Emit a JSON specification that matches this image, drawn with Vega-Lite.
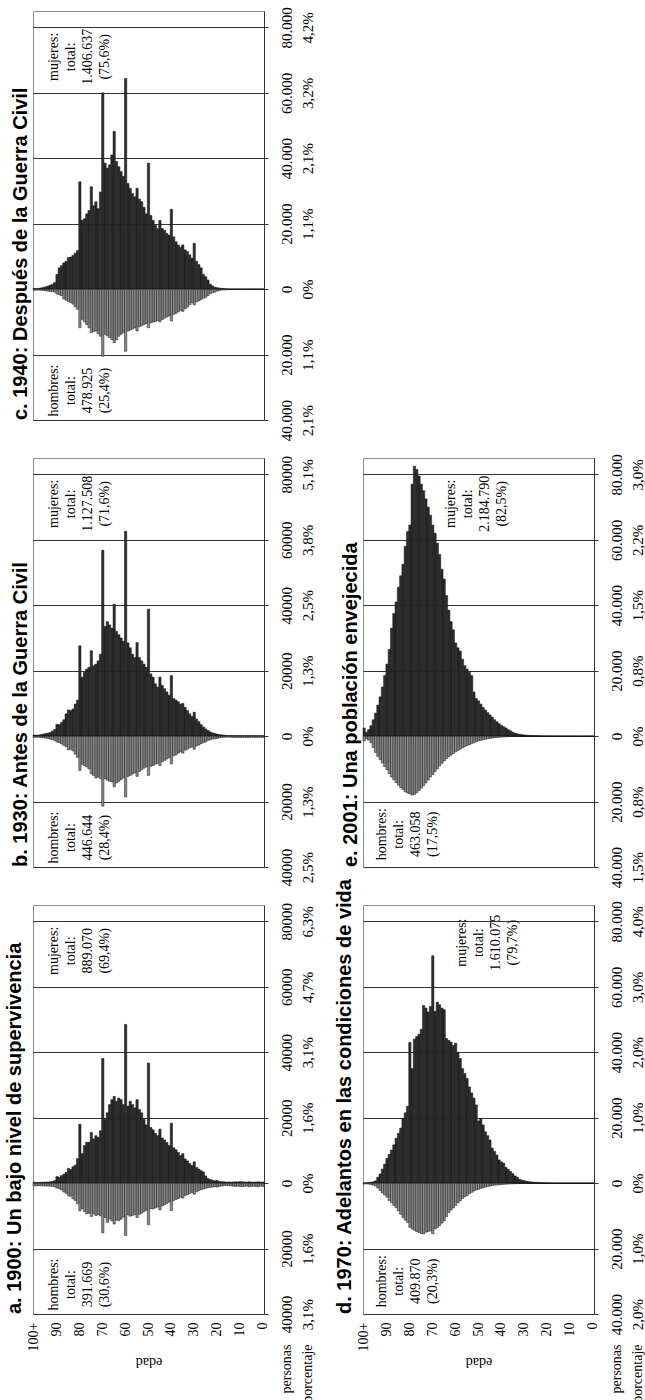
{
"$schema": "https://vega.github.io/schema/vega-lite/v6.json",
"background": "white",
"padding": {"left": 4, "top": 6, "right": 0, "bottom": 0},
"config": {"view": {"stroke": "#8c8c8c", "strokeWidth": 1}, "axis": {"labelColor": "#000", "titleColor": "#000"}, "title": {"frame": "group"}, "text": {"angle": 270, "align": "center", "baseline": "middle", "font": "Liberation Serif", "fontSize": 14, "color": "#000"}},
"columns": 2,
"bounds": "flush",
"spacing": {"row": 38, "column": 99},
"datasets": {
"A": [
{"a":0,"s":"m","v":350},{"a":1,"s":"m","v":300},{"a":2,"s":"m","v":400},{"a":3,"s":"m","v":350},{"a":4,"s":"m","v":300},{"a":5,"s":"m","v":350},{"a":6,"s":"m","v":400},{"a":7,"s":"m","v":300},{"a":8,"s":"m","v":350},{"a":9,"s":"m","v":400},
{"a":10,"s":"m","v":450},{"a":11,"s":"m","v":350},{"a":12,"s":"m","v":400},{"a":13,"s":"m","v":350},{"a":14,"s":"m","v":300},{"a":15,"s":"m","v":350},{"a":16,"s":"m","v":300},{"a":17,"s":"m","v":400},{"a":18,"s":"m","v":450},{"a":19,"s":"m","v":500},
{"a":20,"s":"m","v":800},{"a":21,"s":"m","v":700},{"a":22,"s":"m","v":900},{"a":23,"s":"m","v":1100},{"a":24,"s":"m","v":1400},{"a":25,"s":"m","v":2200},{"a":26,"s":"m","v":3400},{"a":27,"s":"m","v":3800},{"a":28,"s":"m","v":4300},{"a":29,"s":"m","v":4800},
{"a":30,"s":"m","v":6500},{"a":31,"s":"m","v":5400},{"a":32,"s":"m","v":6000},{"a":33,"s":"m","v":6800},{"a":34,"s":"m","v":7400},{"a":35,"s":"m","v":9000},{"a":36,"s":"m","v":8400},{"a":37,"s":"m","v":9400},{"a":38,"s":"m","v":10200},{"a":39,"s":"m","v":10800},
{"a":40,"s":"m","v":18300},{"a":41,"s":"m","v":11500},{"a":42,"s":"m","v":12400},{"a":43,"s":"m","v":13200},{"a":44,"s":"m","v":13800},{"a":45,"s":"m","v":16500},{"a":46,"s":"m","v":14500},{"a":47,"s":"m","v":15200},{"a":48,"s":"m","v":16300},{"a":49,"s":"m","v":17000},
{"a":50,"s":"m","v":36700},{"a":51,"s":"m","v":17800},{"a":52,"s":"m","v":19500},{"a":53,"s":"m","v":21500},{"a":54,"s":"m","v":22500},{"a":55,"s":"m","v":25500},{"a":56,"s":"m","v":23000},{"a":57,"s":"m","v":24000},{"a":58,"s":"m","v":25000},{"a":59,"s":"m","v":23500},
{"a":60,"s":"m","v":48500},{"a":61,"s":"m","v":24000},{"a":62,"s":"m","v":25500},{"a":63,"s":"m","v":26000},{"a":64,"s":"m","v":25000},{"a":65,"s":"m","v":26500},{"a":66,"s":"m","v":25500},{"a":67,"s":"m","v":24000},{"a":68,"s":"m","v":21500},{"a":69,"s":"m","v":19500},
{"a":70,"s":"m","v":38100},{"a":71,"s":"m","v":16000},{"a":72,"s":"m","v":14000},{"a":73,"s":"m","v":14500},{"a":74,"s":"m","v":13500},{"a":75,"s":"m","v":15500},{"a":76,"s":"m","v":12500},{"a":77,"s":"m","v":12500},{"a":78,"s":"m","v":11500},{"a":79,"s":"m","v":9000},
{"a":80,"s":"m","v":18000},{"a":81,"s":"m","v":7500},{"a":82,"s":"m","v":5500},{"a":83,"s":"m","v":5000},{"a":84,"s":"m","v":4200},{"a":85,"s":"m","v":4500},{"a":86,"s":"m","v":3300},{"a":87,"s":"m","v":2700},{"a":88,"s":"m","v":2300},{"a":89,"s":"m","v":1800},
{"a":90,"s":"m","v":2000},{"a":91,"s":"m","v":800},{"a":92,"s":"m","v":500},{"a":93,"s":"m","v":400},{"a":94,"s":"m","v":300},{"a":95,"s":"m","v":350},{"a":96,"s":"m","v":250},{"a":97,"s":"m","v":250},{"a":98,"s":"m","v":200},{"a":99,"s":"m","v":200},{"a":100,"s":"m","v":300},
{"a":0,"s":"h","v":-1000},{"a":1,"s":"h","v":-900},{"a":2,"s":"h","v":-1100},{"a":3,"s":"h","v":-1000},{"a":4,"s":"h","v":-900},{"a":5,"s":"h","v":-1000},{"a":6,"s":"h","v":-1100},{"a":7,"s":"h","v":-900},{"a":8,"s":"h","v":-1000},{"a":9,"s":"h","v":-1100},
{"a":10,"s":"h","v":-1000},{"a":11,"s":"h","v":-900},{"a":12,"s":"h","v":-1000},{"a":13,"s":"h","v":-900},{"a":14,"s":"h","v":-800},{"a":15,"s":"h","v":-800},{"a":16,"s":"h","v":-700},{"a":17,"s":"h","v":-800},{"a":18,"s":"h","v":-900},{"a":19,"s":"h","v":-1000},
{"a":20,"s":"h","v":-1200},{"a":21,"s":"h","v":-1100},{"a":22,"s":"h","v":-1200},{"a":23,"s":"h","v":-1300},{"a":24,"s":"h","v":-1400},{"a":25,"s":"h","v":-1600},{"a":26,"s":"h","v":-1800},{"a":27,"s":"h","v":-2000},{"a":28,"s":"h","v":-2300},{"a":29,"s":"h","v":-2600},
{"a":30,"s":"h","v":-3400},{"a":31,"s":"h","v":-2900},{"a":32,"s":"h","v":-3200},{"a":33,"s":"h","v":-3500},{"a":34,"s":"h","v":-3800},{"a":35,"s":"h","v":-4600},{"a":36,"s":"h","v":-4300},{"a":37,"s":"h","v":-4700},{"a":38,"s":"h","v":-5000},{"a":39,"s":"h","v":-5300},
{"a":40,"s":"h","v":-8400},{"a":41,"s":"h","v":-5800},{"a":42,"s":"h","v":-6200},{"a":43,"s":"h","v":-6600},{"a":44,"s":"h","v":-7000},{"a":45,"s":"h","v":-8200},{"a":46,"s":"h","v":-7300},{"a":47,"s":"h","v":-7600},{"a":48,"s":"h","v":-7900},{"a":49,"s":"h","v":-7800},
{"a":50,"s":"h","v":-12700},{"a":51,"s":"h","v":-8300},{"a":52,"s":"h","v":-8700},{"a":53,"s":"h","v":-9200},{"a":54,"s":"h","v":-9500},{"a":55,"s":"h","v":-10500},{"a":56,"s":"h","v":-9600},{"a":57,"s":"h","v":-9900},{"a":58,"s":"h","v":-10100},{"a":59,"s":"h","v":-9700},
{"a":60,"s":"h","v":-16000},{"a":61,"s":"h","v":-10400},{"a":62,"s":"h","v":-11000},{"a":63,"s":"h","v":-11500},{"a":64,"s":"h","v":-11300},{"a":65,"s":"h","v":-12500},{"a":66,"s":"h","v":-11500},{"a":67,"s":"h","v":-11000},{"a":68,"s":"h","v":-12000},{"a":69,"s":"h","v":-10500},
{"a":70,"s":"h","v":-15200},{"a":71,"s":"h","v":-10000},{"a":72,"s":"h","v":-9600},{"a":73,"s":"h","v":-9900},{"a":74,"s":"h","v":-9400},{"a":75,"s":"h","v":-10200},{"a":76,"s":"h","v":-9200},{"a":77,"s":"h","v":-9400},{"a":78,"s":"h","v":-8700},{"a":79,"s":"h","v":-7800},
{"a":80,"s":"h","v":-8500},{"a":81,"s":"h","v":-6300},{"a":82,"s":"h","v":-5300},{"a":83,"s":"h","v":-4800},{"a":84,"s":"h","v":-4000},{"a":85,"s":"h","v":-3900},{"a":86,"s":"h","v":-3100},{"a":87,"s":"h","v":-2700},{"a":88,"s":"h","v":-2100},{"a":89,"s":"h","v":-1700},
{"a":90,"s":"h","v":-1500},{"a":91,"s":"h","v":-1100},{"a":92,"s":"h","v":-1000},{"a":93,"s":"h","v":-900},{"a":94,"s":"h","v":-900},{"a":95,"s":"h","v":-900},{"a":96,"s":"h","v":-800},{"a":97,"s":"h","v":-800},{"a":98,"s":"h","v":-800},{"a":99,"s":"h","v":-800},{"a":100,"s":"h","v":-900}
],
"B": [
{"a":0,"s":"m","v":150},{"a":1,"s":"m","v":120},{"a":2,"s":"m","v":150},{"a":3,"s":"m","v":130},{"a":4,"s":"m","v":150},{"a":5,"s":"m","v":140},{"a":6,"s":"m","v":160},{"a":7,"s":"m","v":150},{"a":8,"s":"m","v":130},{"a":9,"s":"m","v":150},
{"a":10,"s":"m","v":160},{"a":11,"s":"m","v":140},{"a":12,"s":"m","v":150},{"a":13,"s":"m","v":160},{"a":14,"s":"m","v":180},{"a":15,"s":"m","v":200},{"a":16,"s":"m","v":250},{"a":17,"s":"m","v":300},{"a":18,"s":"m","v":400},{"a":19,"s":"m","v":450},
{"a":20,"s":"m","v":600},{"a":21,"s":"m","v":800},{"a":22,"s":"m","v":1000},{"a":23,"s":"m","v":1300},{"a":24,"s":"m","v":1700},{"a":25,"s":"m","v":2200},{"a":26,"s":"m","v":2800},{"a":27,"s":"m","v":3500},{"a":28,"s":"m","v":4400},{"a":29,"s":"m","v":5200},
{"a":30,"s":"m","v":7300},{"a":31,"s":"m","v":6000},{"a":32,"s":"m","v":6800},{"a":33,"s":"m","v":7800},{"a":34,"s":"m","v":8800},{"a":35,"s":"m","v":10000},{"a":36,"s":"m","v":9800},{"a":37,"s":"m","v":10500},{"a":38,"s":"m","v":11000},{"a":39,"s":"m","v":11500},
{"a":40,"s":"m","v":18500},{"a":41,"s":"m","v":12500},{"a":42,"s":"m","v":13500},{"a":43,"s":"m","v":14500},{"a":44,"s":"m","v":15500},{"a":45,"s":"m","v":18000},{"a":46,"s":"m","v":15000},{"a":47,"s":"m","v":16000},{"a":48,"s":"m","v":18000},{"a":49,"s":"m","v":19000},
{"a":50,"s":"m","v":38800},{"a":51,"s":"m","v":21000},{"a":52,"s":"m","v":22000},{"a":53,"s":"m","v":23000},{"a":54,"s":"m","v":24000},{"a":55,"s":"m","v":28600},{"a":56,"s":"m","v":24000},{"a":57,"s":"m","v":25000},{"a":58,"s":"m","v":27000},{"a":59,"s":"m","v":28500},
{"a":60,"s":"m","v":62600},{"a":61,"s":"m","v":29000},{"a":62,"s":"m","v":30000},{"a":63,"s":"m","v":31000},{"a":64,"s":"m","v":32000},{"a":65,"s":"m","v":40300},{"a":66,"s":"m","v":33000},{"a":67,"s":"m","v":34000},{"a":68,"s":"m","v":35000},{"a":69,"s":"m","v":33500},
{"a":70,"s":"m","v":56800},{"a":71,"s":"m","v":25000},{"a":72,"s":"m","v":23000},{"a":73,"s":"m","v":22000},{"a":74,"s":"m","v":21500},{"a":75,"s":"m","v":26100},{"a":76,"s":"m","v":21000},{"a":77,"s":"m","v":20500},{"a":78,"s":"m","v":19500},{"a":79,"s":"m","v":18000},
{"a":80,"s":"m","v":27600},{"a":81,"s":"m","v":11000},{"a":82,"s":"m","v":9800},{"a":83,"s":"m","v":8300},{"a":84,"s":"m","v":7800},{"a":85,"s":"m","v":8000},{"a":86,"s":"m","v":6800},{"a":87,"s":"m","v":5000},{"a":88,"s":"m","v":4200},{"a":89,"s":"m","v":3500},
{"a":90,"s":"m","v":3600},{"a":91,"s":"m","v":2000},{"a":92,"s":"m","v":1500},{"a":93,"s":"m","v":1100},{"a":94,"s":"m","v":900},{"a":95,"s":"m","v":800},{"a":96,"s":"m","v":600},{"a":97,"s":"m","v":450},{"a":98,"s":"m","v":350},{"a":99,"s":"m","v":300},{"a":100,"s":"m","v":350},
{"a":0,"s":"h","v":-400},{"a":1,"s":"h","v":-350},{"a":2,"s":"h","v":-400},{"a":3,"s":"h","v":-380},{"a":4,"s":"h","v":-400},{"a":5,"s":"h","v":-350},{"a":6,"s":"h","v":-420},{"a":7,"s":"h","v":-400},{"a":8,"s":"h","v":-380},{"a":9,"s":"h","v":-400},
{"a":10,"s":"h","v":-420},{"a":11,"s":"h","v":-380},{"a":12,"s":"h","v":-400},{"a":13,"s":"h","v":-380},{"a":14,"s":"h","v":-350},{"a":15,"s":"h","v":-300},{"a":16,"s":"h","v":-300},{"a":17,"s":"h","v":-350},{"a":18,"s":"h","v":-400},{"a":19,"s":"h","v":-500},
{"a":20,"s":"h","v":-700},{"a":21,"s":"h","v":-800},{"a":22,"s":"h","v":-900},{"a":23,"s":"h","v":-1100},{"a":24,"s":"h","v":-1300},{"a":25,"s":"h","v":-1800},{"a":26,"s":"h","v":-2000},{"a":27,"s":"h","v":-2300},{"a":28,"s":"h","v":-2700},{"a":29,"s":"h","v":-3000},
{"a":30,"s":"h","v":-4000},{"a":31,"s":"h","v":-3300},{"a":32,"s":"h","v":-3600},{"a":33,"s":"h","v":-4000},{"a":34,"s":"h","v":-4300},{"a":35,"s":"h","v":-5200},{"a":36,"s":"h","v":-4800},{"a":37,"s":"h","v":-5200},{"a":38,"s":"h","v":-5700},{"a":39,"s":"h","v":-6000},
{"a":40,"s":"h","v":-8500},{"a":41,"s":"h","v":-6500},{"a":42,"s":"h","v":-7000},{"a":43,"s":"h","v":-7400},{"a":44,"s":"h","v":-7800},{"a":45,"s":"h","v":-9000},{"a":46,"s":"h","v":-8300},{"a":47,"s":"h","v":-8600},{"a":48,"s":"h","v":-9000},{"a":49,"s":"h","v":-9200},
{"a":50,"s":"h","v":-12000},{"a":51,"s":"h","v":-9400},{"a":52,"s":"h","v":-9800},{"a":53,"s":"h","v":-10300},{"a":54,"s":"h","v":-10800},{"a":55,"s":"h","v":-12300},{"a":56,"s":"h","v":-11200},{"a":57,"s":"h","v":-11600},{"a":58,"s":"h","v":-12000},{"a":59,"s":"h","v":-12300},
{"a":60,"s":"h","v":-18600},{"a":61,"s":"h","v":-12800},{"a":62,"s":"h","v":-13300},{"a":63,"s":"h","v":-13800},{"a":64,"s":"h","v":-14300},{"a":65,"s":"h","v":-15500},{"a":66,"s":"h","v":-14000},{"a":67,"s":"h","v":-13800},{"a":68,"s":"h","v":-13500},{"a":69,"s":"h","v":-13000},
{"a":70,"s":"h","v":-21400},{"a":71,"s":"h","v":-13000},{"a":72,"s":"h","v":-12500},{"a":73,"s":"h","v":-12800},{"a":74,"s":"h","v":-12000},{"a":75,"s":"h","v":-11500},{"a":76,"s":"h","v":-10000},{"a":77,"s":"h","v":-9400},{"a":78,"s":"h","v":-9000},{"a":79,"s":"h","v":-8600},
{"a":80,"s":"h","v":-10500},{"a":81,"s":"h","v":-6500},{"a":82,"s":"h","v":-5500},{"a":83,"s":"h","v":-4500},{"a":84,"s":"h","v":-4000},{"a":85,"s":"h","v":-4200},{"a":86,"s":"h","v":-3200},{"a":87,"s":"h","v":-2800},{"a":88,"s":"h","v":-2400},{"a":89,"s":"h","v":-2000},
{"a":90,"s":"h","v":-1800},{"a":91,"s":"h","v":-1300},{"a":92,"s":"h","v":-1100},{"a":93,"s":"h","v":-900},{"a":94,"s":"h","v":-700},{"a":95,"s":"h","v":-600},{"a":96,"s":"h","v":-500},{"a":97,"s":"h","v":-400},{"a":98,"s":"h","v":-350},{"a":99,"s":"h","v":-300},{"a":100,"s":"h","v":-400}
],
"C": [
{"a":0,"s":"m","v":50},{"a":1,"s":"m","v":50},{"a":2,"s":"m","v":50},{"a":3,"s":"m","v":50},{"a":4,"s":"m","v":50},{"a":5,"s":"m","v":50},{"a":6,"s":"m","v":50},{"a":7,"s":"m","v":50},{"a":8,"s":"m","v":50},{"a":9,"s":"m","v":50},
{"a":10,"s":"m","v":50},{"a":11,"s":"m","v":50},{"a":12,"s":"m","v":50},{"a":13,"s":"m","v":50},{"a":14,"s":"m","v":50},{"a":15,"s":"m","v":80},{"a":16,"s":"m","v":120},{"a":17,"s":"m","v":200},{"a":18,"s":"m","v":250},{"a":19,"s":"m","v":300},
{"a":20,"s":"m","v":450},{"a":21,"s":"m","v":600},{"a":22,"s":"m","v":1000},{"a":23,"s":"m","v":1500},{"a":24,"s":"m","v":2800},{"a":25,"s":"m","v":3800},{"a":26,"s":"m","v":4500},{"a":27,"s":"m","v":6500},{"a":28,"s":"m","v":7500},{"a":29,"s":"m","v":8500},
{"a":30,"s":"m","v":14000},{"a":31,"s":"m","v":9500},{"a":32,"s":"m","v":10500},{"a":33,"s":"m","v":11500},{"a":34,"s":"m","v":12000},{"a":35,"s":"m","v":13500},{"a":36,"s":"m","v":12800},{"a":37,"s":"m","v":13500},{"a":38,"s":"m","v":14500},{"a":39,"s":"m","v":16000},
{"a":40,"s":"m","v":24400},{"a":41,"s":"m","v":16500},{"a":42,"s":"m","v":17000},{"a":43,"s":"m","v":18000},{"a":44,"s":"m","v":18500},{"a":45,"s":"m","v":21000},{"a":46,"s":"m","v":18500},{"a":47,"s":"m","v":19500},{"a":48,"s":"m","v":21000},{"a":49,"s":"m","v":22500},
{"a":50,"s":"m","v":38500},{"a":51,"s":"m","v":23000},{"a":52,"s":"m","v":25000},{"a":53,"s":"m","v":26700},{"a":54,"s":"m","v":27500},{"a":55,"s":"m","v":30800},{"a":56,"s":"m","v":28200},{"a":57,"s":"m","v":29200},{"a":58,"s":"m","v":30800},{"a":59,"s":"m","v":32300},
{"a":60,"s":"m","v":64400},{"a":61,"s":"m","v":34500},{"a":62,"s":"m","v":35900},{"a":63,"s":"m","v":37400},{"a":64,"s":"m","v":39000},{"a":65,"s":"m","v":48200},{"a":66,"s":"m","v":41000},{"a":67,"s":"m","v":38000},{"a":68,"s":"m","v":37000},{"a":69,"s":"m","v":38500},
{"a":70,"s":"m","v":60000},{"a":71,"s":"m","v":29700},{"a":72,"s":"m","v":24600},{"a":73,"s":"m","v":26700},{"a":74,"s":"m","v":25500},{"a":75,"s":"m","v":31300},{"a":76,"s":"m","v":24000},{"a":77,"s":"m","v":23000},{"a":78,"s":"m","v":21500},{"a":79,"s":"m","v":21000},
{"a":80,"s":"m","v":32800},{"a":81,"s":"m","v":11800},{"a":82,"s":"m","v":11000},{"a":83,"s":"m","v":10300},{"a":84,"s":"m","v":9800},{"a":85,"s":"m","v":9700},{"a":86,"s":"m","v":8500},{"a":87,"s":"m","v":8000},{"a":88,"s":"m","v":7200},{"a":89,"s":"m","v":6500},
{"a":90,"s":"m","v":4500},{"a":91,"s":"m","v":2000},{"a":92,"s":"m","v":1500},{"a":93,"s":"m","v":1200},{"a":94,"s":"m","v":900},{"a":95,"s":"m","v":700},{"a":96,"s":"m","v":500},{"a":97,"s":"m","v":350},{"a":98,"s":"m","v":250},{"a":99,"s":"m","v":150},{"a":100,"s":"m","v":200},
{"a":0,"s":"h","v":-100},{"a":1,"s":"h","v":-100},{"a":2,"s":"h","v":-100},{"a":3,"s":"h","v":-100},{"a":4,"s":"h","v":-100},{"a":5,"s":"h","v":-100},{"a":6,"s":"h","v":-100},{"a":7,"s":"h","v":-100},{"a":8,"s":"h","v":-100},{"a":9,"s":"h","v":-100},
{"a":10,"s":"h","v":-100},{"a":11,"s":"h","v":-100},{"a":12,"s":"h","v":-100},{"a":13,"s":"h","v":-100},{"a":14,"s":"h","v":-100},{"a":15,"s":"h","v":-150},{"a":16,"s":"h","v":-200},{"a":17,"s":"h","v":-250},{"a":18,"s":"h","v":-300},{"a":19,"s":"h","v":-400},
{"a":20,"s":"h","v":-600},{"a":21,"s":"h","v":-900},{"a":22,"s":"h","v":-1100},{"a":23,"s":"h","v":-1400},{"a":24,"s":"h","v":-2000},{"a":25,"s":"h","v":-2500},{"a":26,"s":"h","v":-2800},{"a":27,"s":"h","v":-3200},{"a":28,"s":"h","v":-3600},{"a":29,"s":"h","v":-3900},
{"a":30,"s":"h","v":-4800},{"a":31,"s":"h","v":-4200},{"a":32,"s":"h","v":-4800},{"a":33,"s":"h","v":-5500},{"a":34,"s":"h","v":-6000},{"a":35,"s":"h","v":-6800},{"a":36,"s":"h","v":-6500},{"a":37,"s":"h","v":-7000},{"a":38,"s":"h","v":-7400},{"a":39,"s":"h","v":-7700},
{"a":40,"s":"h","v":-9700},{"a":41,"s":"h","v":-8200},{"a":42,"s":"h","v":-8500},{"a":43,"s":"h","v":-8900},{"a":44,"s":"h","v":-9300},{"a":45,"s":"h","v":-10000},{"a":46,"s":"h","v":-9600},{"a":47,"s":"h","v":-9900},{"a":48,"s":"h","v":-10100},{"a":49,"s":"h","v":-10300},
{"a":50,"s":"h","v":-11800},{"a":51,"s":"h","v":-10500},{"a":52,"s":"h","v":-10800},{"a":53,"s":"h","v":-11200},{"a":54,"s":"h","v":-11500},{"a":55,"s":"h","v":-12800},{"a":56,"s":"h","v":-11800},{"a":57,"s":"h","v":-12200},{"a":58,"s":"h","v":-12500},{"a":59,"s":"h","v":-12800},
{"a":60,"s":"h","v":-19000},{"a":61,"s":"h","v":-13300},{"a":62,"s":"h","v":-13800},{"a":63,"s":"h","v":-14400},{"a":64,"s":"h","v":-15500},{"a":65,"s":"h","v":-16400},{"a":66,"s":"h","v":-15400},{"a":67,"s":"h","v":-14800},{"a":68,"s":"h","v":-14300},{"a":69,"s":"h","v":-13800},
{"a":70,"s":"h","v":-20500},{"a":71,"s":"h","v":-14400},{"a":72,"s":"h","v":-13600},{"a":73,"s":"h","v":-12800},{"a":74,"s":"h","v":-13000},{"a":75,"s":"h","v":-13300},{"a":76,"s":"h","v":-11800},{"a":77,"s":"h","v":-10800},{"a":78,"s":"h","v":-10000},{"a":79,"s":"h","v":-9200},
{"a":80,"s":"h","v":-11800},{"a":81,"s":"h","v":-6200},{"a":82,"s":"h","v":-5400},{"a":83,"s":"h","v":-4600},{"a":84,"s":"h","v":-4100},{"a":85,"s":"h","v":-3800},{"a":86,"s":"h","v":-3400},{"a":87,"s":"h","v":-3000},{"a":88,"s":"h","v":-2000},{"a":89,"s":"h","v":-1700},
{"a":90,"s":"h","v":-1500},{"a":91,"s":"h","v":-900},{"a":92,"s":"h","v":-800},{"a":93,"s":"h","v":-700},{"a":94,"s":"h","v":-600},{"a":95,"s":"h","v":-500},{"a":96,"s":"h","v":-400},{"a":97,"s":"h","v":-350},{"a":98,"s":"h","v":-300},{"a":99,"s":"h","v":-300},{"a":100,"s":"h","v":-350}
],
"D": [
{"a":0,"s":"m","v":0},{"a":1,"s":"m","v":0},{"a":2,"s":"m","v":0},{"a":3,"s":"m","v":0},{"a":4,"s":"m","v":0},{"a":5,"s":"m","v":0},{"a":6,"s":"m","v":0},{"a":7,"s":"m","v":0},{"a":8,"s":"m","v":0},{"a":9,"s":"m","v":0},
{"a":10,"s":"m","v":0},{"a":11,"s":"m","v":0},{"a":12,"s":"m","v":5},{"a":13,"s":"m","v":5},{"a":14,"s":"m","v":10},{"a":15,"s":"m","v":10},{"a":16,"s":"m","v":20},{"a":17,"s":"m","v":30},{"a":18,"s":"m","v":40},{"a":19,"s":"m","v":60},
{"a":20,"s":"m","v":80},{"a":21,"s":"m","v":100},{"a":22,"s":"m","v":130},{"a":23,"s":"m","v":160},{"a":24,"s":"m","v":200},{"a":25,"s":"m","v":250},{"a":26,"s":"m","v":300},{"a":27,"s":"m","v":350},{"a":28,"s":"m","v":450},{"a":29,"s":"m","v":600},
{"a":30,"s":"m","v":750},{"a":31,"s":"m","v":900},{"a":32,"s":"m","v":1200},{"a":33,"s":"m","v":1800},{"a":34,"s":"m","v":2200},{"a":35,"s":"m","v":2900},{"a":36,"s":"m","v":3600},{"a":37,"s":"m","v":4200},{"a":38,"s":"m","v":4800},{"a":39,"s":"m","v":6100},
{"a":40,"s":"m","v":6500},{"a":41,"s":"m","v":7100},{"a":42,"s":"m","v":8600},{"a":43,"s":"m","v":9700},{"a":44,"s":"m","v":10700},{"a":45,"s":"m","v":13200},{"a":46,"s":"m","v":14500},{"a":47,"s":"m","v":15700},{"a":48,"s":"m","v":17800},{"a":49,"s":"m","v":19800},
{"a":50,"s":"m","v":19000},{"a":51,"s":"m","v":23900},{"a":52,"s":"m","v":26000},{"a":53,"s":"m","v":27600},{"a":54,"s":"m","v":29400},{"a":55,"s":"m","v":32000},{"a":56,"s":"m","v":33500},{"a":57,"s":"m","v":35000},{"a":58,"s":"m","v":38100},{"a":59,"s":"m","v":40000},
{"a":60,"s":"m","v":42800},{"a":61,"s":"m","v":42100},{"a":62,"s":"m","v":43100},{"a":63,"s":"m","v":43600},{"a":64,"s":"m","v":44200},{"a":65,"s":"m","v":53000},{"a":66,"s":"m","v":53500},{"a":67,"s":"m","v":54500},{"a":68,"s":"m","v":55300},{"a":69,"s":"m","v":52500},
{"a":70,"s":"m","v":69500},{"a":71,"s":"m","v":54000},{"a":72,"s":"m","v":52300},{"a":73,"s":"m","v":53500},{"a":74,"s":"m","v":54300},{"a":75,"s":"m","v":47000},{"a":76,"s":"m","v":45500},{"a":77,"s":"m","v":44800},{"a":78,"s":"m","v":44000},{"a":79,"s":"m","v":35000},
{"a":80,"s":"m","v":43000},{"a":81,"s":"m","v":23500},{"a":82,"s":"m","v":21500},{"a":83,"s":"m","v":19800},{"a":84,"s":"m","v":16800},{"a":85,"s":"m","v":15200},{"a":86,"s":"m","v":13700},{"a":87,"s":"m","v":11700},{"a":88,"s":"m","v":10100},{"a":89,"s":"m","v":8800},
{"a":90,"s":"m","v":7600},{"a":91,"s":"m","v":5800},{"a":92,"s":"m","v":4300},{"a":93,"s":"m","v":2800},{"a":94,"s":"m","v":1800},{"a":95,"s":"m","v":700},{"a":96,"s":"m","v":400},{"a":97,"s":"m","v":250},{"a":98,"s":"m","v":150},{"a":99,"s":"m","v":100},{"a":100,"s":"m","v":100},
{"a":0,"s":"h","v":0},{"a":1,"s":"h","v":0},{"a":2,"s":"h","v":0},{"a":3,"s":"h","v":0},{"a":4,"s":"h","v":0},{"a":5,"s":"h","v":0},{"a":6,"s":"h","v":0},{"a":7,"s":"h","v":0},{"a":8,"s":"h","v":0},{"a":9,"s":"h","v":0},
{"a":10,"s":"h","v":0},{"a":11,"s":"h","v":0},{"a":12,"s":"h","v":-5},{"a":13,"s":"h","v":-5},{"a":14,"s":"h","v":-10},{"a":15,"s":"h","v":-10},{"a":16,"s":"h","v":-10},{"a":17,"s":"h","v":-10},{"a":18,"s":"h","v":-10},{"a":19,"s":"h","v":-10},
{"a":20,"s":"h","v":-15},{"a":21,"s":"h","v":-20},{"a":22,"s":"h","v":-30},{"a":23,"s":"h","v":-40},{"a":24,"s":"h","v":-50},{"a":25,"s":"h","v":-60},{"a":26,"s":"h","v":-70},{"a":27,"s":"h","v":-80},{"a":28,"s":"h","v":-90},{"a":29,"s":"h","v":-100},
{"a":30,"s":"h","v":-110},{"a":31,"s":"h","v":-130},{"a":32,"s":"h","v":-150},{"a":33,"s":"h","v":-170},{"a":34,"s":"h","v":-190},{"a":35,"s":"h","v":-210},{"a":36,"s":"h","v":-240},{"a":37,"s":"h","v":-280},{"a":38,"s":"h","v":-320},{"a":39,"s":"h","v":-370},
{"a":40,"s":"h","v":-430},{"a":41,"s":"h","v":-500},{"a":42,"s":"h","v":-560},{"a":43,"s":"h","v":-650},{"a":44,"s":"h","v":-750},{"a":45,"s":"h","v":-900},{"a":46,"s":"h","v":-1000},{"a":47,"s":"h","v":-1200},{"a":48,"s":"h","v":-1400},{"a":49,"s":"h","v":-1600},
{"a":50,"s":"h","v":-1900},{"a":51,"s":"h","v":-2100},{"a":52,"s":"h","v":-2400},{"a":53,"s":"h","v":-2800},{"a":54,"s":"h","v":-3200},{"a":55,"s":"h","v":-3800},{"a":56,"s":"h","v":-4200},{"a":57,"s":"h","v":-4700},{"a":58,"s":"h","v":-5400},{"a":59,"s":"h","v":-6000},
{"a":60,"s":"h","v":-6800},{"a":61,"s":"h","v":-7600},{"a":62,"s":"h","v":-8200},{"a":63,"s":"h","v":-9000},{"a":64,"s":"h","v":-10200},{"a":65,"s":"h","v":-11500},{"a":66,"s":"h","v":-12200},{"a":67,"s":"h","v":-13000},{"a":68,"s":"h","v":-13600},{"a":69,"s":"h","v":-14000},
{"a":70,"s":"h","v":-15500},{"a":71,"s":"h","v":-14600},{"a":72,"s":"h","v":-14800},{"a":73,"s":"h","v":-15000},{"a":74,"s":"h","v":-15500},{"a":75,"s":"h","v":-15400},{"a":76,"s":"h","v":-15100},{"a":77,"s":"h","v":-14800},{"a":78,"s":"h","v":-14400},{"a":79,"s":"h","v":-14000},
{"a":80,"s":"h","v":-13500},{"a":81,"s":"h","v":-12000},{"a":82,"s":"h","v":-11300},{"a":83,"s":"h","v":-10500},{"a":84,"s":"h","v":-9500},{"a":85,"s":"h","v":-8500},{"a":86,"s":"h","v":-7500},{"a":87,"s":"h","v":-6800},{"a":88,"s":"h","v":-6000},{"a":89,"s":"h","v":-5300},
{"a":90,"s":"h","v":-4300},{"a":91,"s":"h","v":-3600},{"a":92,"s":"h","v":-3000},{"a":93,"s":"h","v":-2300},{"a":94,"s":"h","v":-1500},{"a":95,"s":"h","v":-900},{"a":96,"s":"h","v":-600},{"a":97,"s":"h","v":-400},{"a":98,"s":"h","v":-300},{"a":99,"s":"h","v":-200},{"a":100,"s":"h","v":-300}
],
"E": [
{"a":0,"s":"m","v":0},{"a":1,"s":"m","v":0},{"a":2,"s":"m","v":0},{"a":3,"s":"m","v":0},{"a":4,"s":"m","v":0},{"a":5,"s":"m","v":0},{"a":6,"s":"m","v":0},{"a":7,"s":"m","v":0},{"a":8,"s":"m","v":0},{"a":9,"s":"m","v":0},
{"a":10,"s":"m","v":4},{"a":11,"s":"m","v":5},{"a":12,"s":"m","v":6},{"a":13,"s":"m","v":8},{"a":14,"s":"m","v":10},{"a":15,"s":"m","v":10},{"a":16,"s":"m","v":15},{"a":17,"s":"m","v":20},{"a":18,"s":"m","v":30},{"a":19,"s":"m","v":40},
{"a":20,"s":"m","v":50},{"a":21,"s":"m","v":60},{"a":22,"s":"m","v":80},{"a":23,"s":"m","v":100},{"a":24,"s":"m","v":120},{"a":25,"s":"m","v":140},{"a":26,"s":"m","v":170},{"a":27,"s":"m","v":200},{"a":28,"s":"m","v":250},{"a":29,"s":"m","v":300},
{"a":30,"s":"m","v":350},{"a":31,"s":"m","v":450},{"a":32,"s":"m","v":550},{"a":33,"s":"m","v":700},{"a":34,"s":"m","v":900},{"a":35,"s":"m","v":1200},{"a":36,"s":"m","v":1600},{"a":37,"s":"m","v":2000},{"a":38,"s":"m","v":2500},{"a":39,"s":"m","v":2900},
{"a":40,"s":"m","v":3300},{"a":41,"s":"m","v":3800},{"a":42,"s":"m","v":4400},{"a":43,"s":"m","v":5000},{"a":44,"s":"m","v":5800},{"a":45,"s":"m","v":6500},{"a":46,"s":"m","v":7200},{"a":47,"s":"m","v":8000},{"a":48,"s":"m","v":8800},{"a":49,"s":"m","v":9800},
{"a":50,"s":"m","v":10800},{"a":51,"s":"m","v":11500},{"a":52,"s":"m","v":13500},{"a":53,"s":"m","v":18500},{"a":54,"s":"m","v":19500},{"a":55,"s":"m","v":20500},{"a":56,"s":"m","v":21500},{"a":57,"s":"m","v":23500},{"a":58,"s":"m","v":26000},{"a":59,"s":"m","v":27000},
{"a":60,"s":"m","v":28500},{"a":61,"s":"m","v":32500},{"a":62,"s":"m","v":35000},{"a":63,"s":"m","v":38500},{"a":64,"s":"m","v":43000},{"a":65,"s":"m","v":48000},{"a":66,"s":"m","v":51000},{"a":67,"s":"m","v":55500},{"a":68,"s":"m","v":59000},{"a":69,"s":"m","v":62000},
{"a":70,"s":"m","v":64500},{"a":71,"s":"m","v":67500},{"a":72,"s":"m","v":70000},{"a":73,"s":"m","v":72500},{"a":74,"s":"m","v":75000},{"a":75,"s":"m","v":77000},{"a":76,"s":"m","v":79500},{"a":77,"s":"m","v":81500},{"a":78,"s":"m","v":82500},{"a":79,"s":"m","v":77000},
{"a":80,"s":"m","v":64500},{"a":81,"s":"m","v":62500},{"a":82,"s":"m","v":58000},{"a":83,"s":"m","v":52500},{"a":84,"s":"m","v":49000},{"a":85,"s":"m","v":45500},{"a":86,"s":"m","v":41000},{"a":87,"s":"m","v":37500},{"a":88,"s":"m","v":33000},{"a":89,"s":"m","v":26500},
{"a":90,"s":"m","v":22000},{"a":91,"s":"m","v":18500},{"a":92,"s":"m","v":15000},{"a":93,"s":"m","v":12000},{"a":94,"s":"m","v":9500},{"a":95,"s":"m","v":7000},{"a":96,"s":"m","v":5000},{"a":97,"s":"m","v":3200},{"a":98,"s":"m","v":2000},{"a":99,"s":"m","v":1200},{"a":100,"s":"m","v":2500},
{"a":0,"s":"h","v":0},{"a":1,"s":"h","v":0},{"a":2,"s":"h","v":0},{"a":3,"s":"h","v":0},{"a":4,"s":"h","v":0},{"a":5,"s":"h","v":0},{"a":6,"s":"h","v":0},{"a":7,"s":"h","v":0},{"a":8,"s":"h","v":0},{"a":9,"s":"h","v":0},
{"a":10,"s":"h","v":0},{"a":11,"s":"h","v":0},{"a":12,"s":"h","v":0},{"a":13,"s":"h","v":0},{"a":14,"s":"h","v":0},{"a":15,"s":"h","v":0},{"a":16,"s":"h","v":0},{"a":17,"s":"h","v":0},{"a":18,"s":"h","v":0},{"a":19,"s":"h","v":0},
{"a":20,"s":"h","v":-10},{"a":21,"s":"h","v":-12},{"a":22,"s":"h","v":-15},{"a":23,"s":"h","v":-18},{"a":24,"s":"h","v":-20},{"a":25,"s":"h","v":-22},{"a":26,"s":"h","v":-25},{"a":27,"s":"h","v":-28},{"a":28,"s":"h","v":-30},{"a":29,"s":"h","v":-35},
{"a":30,"s":"h","v":-40},{"a":31,"s":"h","v":-50},{"a":32,"s":"h","v":-60},{"a":33,"s":"h","v":-80},{"a":34,"s":"h","v":-100},{"a":35,"s":"h","v":-120},{"a":36,"s":"h","v":-150},{"a":37,"s":"h","v":-180},{"a":38,"s":"h","v":-220},{"a":39,"s":"h","v":-260},
{"a":40,"s":"h","v":-300},{"a":41,"s":"h","v":-360},{"a":42,"s":"h","v":-420},{"a":43,"s":"h","v":-500},{"a":44,"s":"h","v":-600},{"a":45,"s":"h","v":-700},{"a":46,"s":"h","v":-800},{"a":47,"s":"h","v":-950},{"a":48,"s":"h","v":-1100},{"a":49,"s":"h","v":-1300},
{"a":50,"s":"h","v":-1500},{"a":51,"s":"h","v":-1700},{"a":52,"s":"h","v":-2000},{"a":53,"s":"h","v":-2300},{"a":54,"s":"h","v":-2600},{"a":55,"s":"h","v":-2900},{"a":56,"s":"h","v":-3200},{"a":57,"s":"h","v":-3600},{"a":58,"s":"h","v":-4000},{"a":59,"s":"h","v":-4400},
{"a":60,"s":"h","v":-4800},{"a":61,"s":"h","v":-5300},{"a":62,"s":"h","v":-5800},{"a":63,"s":"h","v":-6300},{"a":64,"s":"h","v":-6900},{"a":65,"s":"h","v":-7600},{"a":66,"s":"h","v":-8300},{"a":67,"s":"h","v":-9100},{"a":68,"s":"h","v":-10000},{"a":69,"s":"h","v":-10800},
{"a":70,"s":"h","v":-11700},{"a":71,"s":"h","v":-12500},{"a":72,"s":"h","v":-13400},{"a":73,"s":"h","v":-14300},{"a":74,"s":"h","v":-15200},{"a":75,"s":"h","v":-15900},{"a":76,"s":"h","v":-16600},{"a":77,"s":"h","v":-17300},{"a":78,"s":"h","v":-17800},{"a":79,"s":"h","v":-18000},
{"a":80,"s":"h","v":-17600},{"a":81,"s":"h","v":-17400},{"a":82,"s":"h","v":-17000},{"a":83,"s":"h","v":-16300},{"a":84,"s":"h","v":-15700},{"a":85,"s":"h","v":-15000},{"a":86,"s":"h","v":-14200},{"a":87,"s":"h","v":-13300},{"a":88,"s":"h","v":-12500},{"a":89,"s":"h","v":-11500},
{"a":90,"s":"h","v":-10300},{"a":91,"s":"h","v":-9300},{"a":92,"s":"h","v":-8200},{"a":93,"s":"h","v":-7200},{"a":94,"s":"h","v":-6200},{"a":95,"s":"h","v":-5000},{"a":96,"s":"h","v":-3500},{"a":97,"s":"h","v":-2000},{"a":98,"s":"h","v":-1200},{"a":99,"s":"h","v":-800},{"a":100,"s":"h","v":-1500}
]
},
"concat": [
{
"width": 231, "height": 409,
"title": {"text": "c. 1940: Después de la Guerra Civil", "orient": "left", "anchor": "start", "font": "Liberation Sans", "fontSize": 20, "fontWeight": "bold", "color": "#000", "offset": 2},
"encoding": {
"x": {"field": "a", "type": "ordinal", "scale": {"domain": [100,99,98,97,96,95,94,93,92,91,90,89,88,87,86,85,84,83,82,81,80,79,78,77,76,75,74,73,72,71,70,69,68,67,66,65,64,63,62,61,60,59,58,57,56,55,54,53,52,51,50,49,48,47,46,45,44,43,42,41,40,39,38,37,36,35,34,33,32,31,30,29,28,27,26,25,24,23,22,21,20,19,18,17,16,15,14,13,12,11,10,9,8,7,6,5,4,3,2,1,0], "paddingInner": 0, "paddingOuter": 0}, "axis": null},
"y": {"field": "v", "type": "quantitative", "scale": {"domain": [-40000, 85000], "nice": false, "zero": false}, "axis": {"orient": "right", "values": [-40000,-20000,0,20000,40000,60000,80000], "grid": true, "gridColor": "#333", "gridWidth": 1, "domainColor": "#333", "tickColor": "#333", "tickSize": 4, "labelAngle": 270, "labelAlign": "center", "labelBaseline": "top", "labelPadding": 11, "labelFont": "Liberation Serif", "labelFontSize": 15, "labelLineHeight": 21, "labelOverlap": false, "labelFlush": false, "labelBound": false, "labelExpr": "[replace(format(abs(datum.value), ','), ',', '.'), datum.value == 0 ? '0%' : abs(datum.value) == 20000 ? '1,1%' : abs(datum.value) == 40000 ? '2,1%' : abs(datum.value) == 60000 ? '3,2%' : '4,2%']", "title": null}}
},
"layer": [
{"data": {"name": "C"}, "mark": {"type": "bar", "stroke": "#111", "strokeWidth": 0.5}, "encoding": {"fill": {"field": "s", "type": "nominal", "scale": {"domain": ["h", "m"], "range": ["#8e8e8e", "#2e2e2e"]}, "legend": null}}},
{"data": {"values": [{"a": 80, "v": -31000, "l1": "hombres:", "l2": "total:", "l3": "478.925", "l4": "(25,4%)"}, {"a": 80, "v": 71000, "l1": "mujeres:", "l2": "total:", "l3": "1.406.637", "l4": "(75,6%)"}]},
 "layer": [
  {"mark": {"type": "text", "dy": -25.5}, "encoding": {"text": {"field": "l1"}}},
  {"mark": {"type": "text", "dy": -8.5}, "encoding": {"text": {"field": "l2"}}},
  {"mark": {"type": "text", "dy": 8.5}, "encoding": {"text": {"field": "l3"}}},
  {"mark": {"type": "text", "dy": 25.5}, "encoding": {"text": {"field": "l4"}}}
 ]}
]
},
{
"width": 231, "height": 409, "view": {"stroke": null},
"data": {"values": [{"z": 1}]},
"mark": {"type": "text", "text": ""},
"encoding": {}
},
{
"width": 231, "height": 409,
"title": {"text": "b. 1930: Antes de la Guerra Civil", "orient": "left", "anchor": "start", "font": "Liberation Sans", "fontSize": 20, "fontWeight": "bold", "color": "#000", "offset": 2},
"encoding": {
"x": {"field": "a", "type": "ordinal", "scale": {"domain": [100,99,98,97,96,95,94,93,92,91,90,89,88,87,86,85,84,83,82,81,80,79,78,77,76,75,74,73,72,71,70,69,68,67,66,65,64,63,62,61,60,59,58,57,56,55,54,53,52,51,50,49,48,47,46,45,44,43,42,41,40,39,38,37,36,35,34,33,32,31,30,29,28,27,26,25,24,23,22,21,20,19,18,17,16,15,14,13,12,11,10,9,8,7,6,5,4,3,2,1,0], "paddingInner": 0, "paddingOuter": 0}, "axis": null},
"y": {"field": "v", "type": "quantitative", "scale": {"domain": [-40000, 85000], "nice": false, "zero": false}, "axis": {"orient": "right", "values": [-40000,-20000,0,20000,40000,60000,80000], "grid": true, "gridColor": "#333", "gridWidth": 1, "domainColor": "#333", "tickColor": "#333", "tickSize": 4, "labelAngle": 270, "labelAlign": "center", "labelBaseline": "top", "labelPadding": 11, "labelFont": "Liberation Serif", "labelFontSize": 15, "labelLineHeight": 21, "labelOverlap": false, "labelFlush": false, "labelBound": false, "labelExpr": "[''+abs(datum.value), datum.value == 0 ? '0%' : abs(datum.value) == 20000 ? '1,3%' : abs(datum.value) == 40000 ? '2,5%' : abs(datum.value) == 60000 ? '3,8%' : '5,1%']", "title": null}}
},
"layer": [
{"data": {"name": "B"}, "mark": {"type": "bar", "stroke": "#111", "strokeWidth": 0.5}, "encoding": {"fill": {"field": "s", "type": "nominal", "scale": {"domain": ["h", "m"], "range": ["#8e8e8e", "#2e2e2e"]}, "legend": null}}},
{"data": {"values": [{"a": 80, "v": -31000, "l1": "hombres:", "l2": "total:", "l3": "446.644", "l4": "(28,4%)"}, {"a": 80, "v": 71000, "l1": "mujeres:", "l2": "total:", "l3": "1.127.508", "l4": "(71,6%)"}]},
 "layer": [
  {"mark": {"type": "text", "dy": -25.5}, "encoding": {"text": {"field": "l1"}}},
  {"mark": {"type": "text", "dy": -8.5}, "encoding": {"text": {"field": "l2"}}},
  {"mark": {"type": "text", "dy": 8.5}, "encoding": {"text": {"field": "l3"}}},
  {"mark": {"type": "text", "dy": 25.5}, "encoding": {"text": {"field": "l4"}}}
 ]}
]
},
{
"width": 231, "height": 409,
"title": {"text": "e. 2001: Una población envejecida", "orient": "left", "anchor": "start", "font": "Liberation Sans", "fontSize": 20, "fontWeight": "bold", "color": "#000", "offset": 2},
"encoding": {
"x": {"field": "a", "type": "ordinal", "scale": {"domain": [100,99,98,97,96,95,94,93,92,91,90,89,88,87,86,85,84,83,82,81,80,79,78,77,76,75,74,73,72,71,70,69,68,67,66,65,64,63,62,61,60,59,58,57,56,55,54,53,52,51,50,49,48,47,46,45,44,43,42,41,40,39,38,37,36,35,34,33,32,31,30,29,28,27,26,25,24,23,22,21,20,19,18,17,16,15,14,13,12,11,10,9,8,7,6,5,4,3,2,1,0], "paddingInner": 0, "paddingOuter": 0}, "axis": null},
"y": {"field": "v", "type": "quantitative", "scale": {"domain": [-40000, 85000], "nice": false, "zero": false}, "axis": {"orient": "right", "values": [-40000,-20000,0,20000,40000,60000,80000], "grid": true, "gridColor": "#333", "gridWidth": 1, "domainColor": "#333", "tickColor": "#333", "tickSize": 4, "labelAngle": 270, "labelAlign": "center", "labelBaseline": "top", "labelPadding": 11, "labelFont": "Liberation Serif", "labelFontSize": 15, "labelLineHeight": 21, "labelOverlap": false, "labelFlush": false, "labelBound": false, "labelExpr": "[replace(format(abs(datum.value), ','), ',', '.'), datum.value == 0 ? '0%' : abs(datum.value) == 20000 ? '0,8%' : abs(datum.value) == 40000 ? '1,5%' : abs(datum.value) == 60000 ? '2,2%' : '3,0%']", "title": null}}
},
"layer": [
{"data": {"name": "E"}, "mark": {"type": "bar", "stroke": "#111", "strokeWidth": 0.5}, "encoding": {"fill": {"field": "s", "type": "nominal", "scale": {"domain": ["h", "m"], "range": ["#8e8e8e", "#2e2e2e"]}, "legend": null}}},
{"data": {"values": [{"a": 81, "v": -30000, "l1": "hombres:", "l2": "total:", "l3": "463.058", "l4": "(17,5%)"}, {"a": 51, "v": 71000, "l1": "mujeres:", "l2": "total:", "l3": "2.184.790", "l4": "(82,5%)"}]},
 "layer": [
  {"mark": {"type": "text", "dy": -25.5}, "encoding": {"text": {"field": "l1"}}},
  {"mark": {"type": "text", "dy": -8.5}, "encoding": {"text": {"field": "l2"}}},
  {"mark": {"type": "text", "dy": 8.5}, "encoding": {"text": {"field": "l3"}}},
  {"mark": {"type": "text", "dy": 25.5}, "encoding": {"text": {"field": "l4"}}}
 ]}
]
},
{
"width": 231, "height": 409,
"title": {"text": "a. 1900: Un bajo nivel de supervivencia", "orient": "left", "anchor": "start", "font": "Liberation Sans", "fontSize": 20, "fontWeight": "bold", "color": "#000", "offset": 2},
"encoding": {
"x": {"field": "a", "type": "ordinal", "scale": {"domain": [100,99,98,97,96,95,94,93,92,91,90,89,88,87,86,85,84,83,82,81,80,79,78,77,76,75,74,73,72,71,70,69,68,67,66,65,64,63,62,61,60,59,58,57,56,55,54,53,52,51,50,49,48,47,46,45,44,43,42,41,40,39,38,37,36,35,34,33,32,31,30,29,28,27,26,25,24,23,22,21,20,19,18,17,16,15,14,13,12,11,10,9,8,7,6,5,4,3,2,1,0], "paddingInner": 0, "paddingOuter": 0}, "axis": {"values": [100,90,80,70,60,50,40,30,20,10,0], "labelExpr": "datum.value == 100 ? '100+' : datum.label", "labelAngle": 270, "labelAlign": "right", "labelBaseline": "middle", "labelPadding": 8, "ticks": false, "domain": false, "grid": false, "labelFont": "Liberation Serif", "labelFontSize": 14, "labelOverlap": false, "title": "edad", "titleAngle": 180, "titleBaseline": "bottom", "titleFont": "Liberation Serif", "titleFontSize": 14, "titleFontWeight": "normal", "titlePadding": 4}},
"y": {"field": "v", "type": "quantitative", "scale": {"domain": [-40000, 85000], "nice": false, "zero": false}, "axis": {"orient": "right", "values": [-40000,-20000,0,20000,40000,60000,80000], "grid": true, "gridColor": "#333", "gridWidth": 1, "domainColor": "#333", "tickColor": "#333", "tickSize": 4, "labelAngle": 270, "labelAlign": "center", "labelBaseline": "top", "labelPadding": 11, "labelFont": "Liberation Serif", "labelFontSize": 15, "labelLineHeight": 21, "labelOverlap": false, "labelFlush": false, "labelBound": false, "labelExpr": "[''+abs(datum.value), datum.value == 0 ? '0%' : abs(datum.value) == 20000 ? '1,6%' : abs(datum.value) == 40000 ? '3,1%' : abs(datum.value) == 60000 ? '4,7%' : '6,3%']", "title": ["personas", "porcentaje"], "titleAngle": 270, "titleAlign": "right", "titleBaseline": "top", "titleX": 15, "titleY": 439, "titleFont": "Liberation Serif", "titleFontSize": 14, "titleFontWeight": "normal", "titleLineHeight": 21}}
},
"layer": [
{"data": {"name": "A"}, "mark": {"type": "bar", "stroke": "#111", "strokeWidth": 0.5}, "encoding": {"fill": {"field": "s", "type": "nominal", "scale": {"domain": ["h", "m"], "range": ["#8e8e8e", "#2e2e2e"]}, "legend": null}}},
{"data": {"values": [{"a": 80, "v": -31000, "l1": "hombres:", "l2": "total:", "l3": "391.669", "l4": "(30,6%)"}, {"a": 80, "v": 71000, "l1": "mujeres:", "l2": "total:", "l3": "889.070", "l4": "(69,4%)"}]},
 "layer": [
  {"mark": {"type": "text", "dy": -25.5}, "encoding": {"text": {"field": "l1"}}},
  {"mark": {"type": "text", "dy": -8.5}, "encoding": {"text": {"field": "l2"}}},
  {"mark": {"type": "text", "dy": 8.5}, "encoding": {"text": {"field": "l3"}}},
  {"mark": {"type": "text", "dy": 25.5}, "encoding": {"text": {"field": "l4"}}}
 ]}
]
},
{
"width": 231, "height": 409,
"title": {"text": "d. 1970: Adelantos en las condiciones de vida", "orient": "left", "anchor": "start", "font": "Liberation Sans", "fontSize": 20, "fontWeight": "bold", "color": "#000", "offset": 2},
"encoding": {
"x": {"field": "a", "type": "ordinal", "scale": {"domain": [100,99,98,97,96,95,94,93,92,91,90,89,88,87,86,85,84,83,82,81,80,79,78,77,76,75,74,73,72,71,70,69,68,67,66,65,64,63,62,61,60,59,58,57,56,55,54,53,52,51,50,49,48,47,46,45,44,43,42,41,40,39,38,37,36,35,34,33,32,31,30,29,28,27,26,25,24,23,22,21,20,19,18,17,16,15,14,13,12,11,10,9,8,7,6,5,4,3,2,1,0], "paddingInner": 0, "paddingOuter": 0}, "axis": {"values": [100,90,80,70,60,50,40,30,20,10,0], "labelExpr": "datum.value == 100 ? '100+' : datum.label", "labelAngle": 270, "labelAlign": "right", "labelBaseline": "middle", "labelPadding": 8, "ticks": false, "domain": false, "grid": false, "labelFont": "Liberation Serif", "labelFontSize": 14, "labelOverlap": false, "title": "edad", "titleAngle": 180, "titleBaseline": "bottom", "titleFont": "Liberation Serif", "titleFontSize": 14, "titleFontWeight": "normal", "titlePadding": 4}},
"y": {"field": "v", "type": "quantitative", "scale": {"domain": [-40000, 85000], "nice": false, "zero": false}, "axis": {"orient": "right", "values": [-40000,-20000,0,20000,40000,60000,80000], "grid": true, "gridColor": "#333", "gridWidth": 1, "domainColor": "#333", "tickColor": "#333", "tickSize": 4, "labelAngle": 270, "labelAlign": "center", "labelBaseline": "top", "labelPadding": 11, "labelFont": "Liberation Serif", "labelFontSize": 15, "labelLineHeight": 21, "labelOverlap": false, "labelFlush": false, "labelBound": false, "labelExpr": "[replace(format(abs(datum.value), ','), ',', '.'), datum.value == 0 ? '0%' : abs(datum.value) == 20000 ? '1,0%' : abs(datum.value) == 40000 ? '2,0%' : abs(datum.value) == 60000 ? '3,0%' : '4,0%']", "title": ["personas", "porcentaje"], "titleAngle": 270, "titleAlign": "right", "titleBaseline": "top", "titleX": 15, "titleY": 439, "titleFont": "Liberation Serif", "titleFontSize": 14, "titleFontWeight": "normal", "titleLineHeight": 21}}
},
"layer": [
{"data": {"name": "D"}, "mark": {"type": "bar", "stroke": "#111", "strokeWidth": 0.5}, "encoding": {"fill": {"field": "s", "type": "nominal", "scale": {"domain": ["h", "m"], "range": ["#8e8e8e", "#2e2e2e"]}, "legend": null}}},
{"data": {"values": [{"a": 81, "v": -30000, "l1": "hombres:", "l2": "total:", "l3": "409.870", "l4": "(20,3%)"}, {"a": 46, "v": 73500, "l1": "mujeres:", "l2": "total:", "l3": "1.610.075", "l4": "(79,7%)"}]},
 "layer": [
  {"mark": {"type": "text", "dy": -25.5}, "encoding": {"text": {"field": "l1"}}},
  {"mark": {"type": "text", "dy": -8.5}, "encoding": {"text": {"field": "l2"}}},
  {"mark": {"type": "text", "dy": 8.5}, "encoding": {"text": {"field": "l3"}}},
  {"mark": {"type": "text", "dy": 25.5}, "encoding": {"text": {"field": "l4"}}}
 ]}
]
}
]
}
